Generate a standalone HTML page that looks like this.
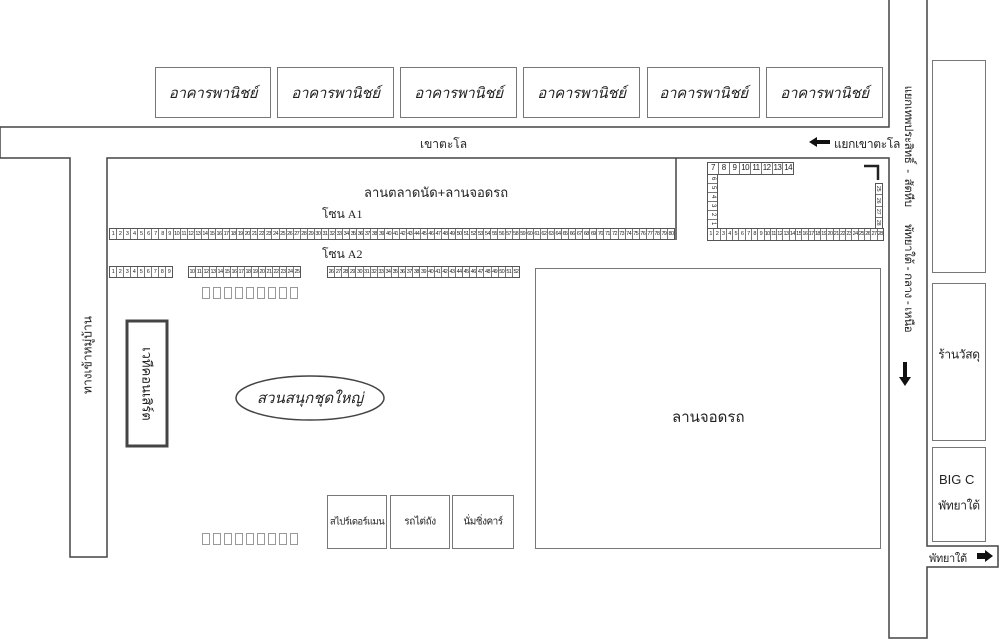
<!DOCTYPE html>
<html><head><meta charset="utf-8">
<style>
body{margin:0;width:1000px;height:641px;background:#fff;position:relative;overflow:hidden;font-family:"Liberation Sans","Noto Sans CJK SC",sans-serif;color:#222}
.a{position:absolute}
.row{position:absolute;display:flex;border:1px solid #555;box-sizing:border-box;background:#fff}
.row span{flex:1;border-right:1px solid #777;font-size:5.5px;letter-spacing:-0.6px;line-height:10px;text-align:center;overflow:hidden;white-space:nowrap}
.row span:last-child{border-right:none}
.col{position:absolute;display:flex;flex-direction:column;border:1px solid #555;box-sizing:border-box;background:#fff}
.col span{flex:1;border-bottom:1px solid #777;font-size:6px;text-align:center;overflow:hidden;writing-mode:vertical-rl;line-height:9px}
.col span:last-child{border-bottom:none}
.shop{position:absolute;top:67px;height:51px;border:1px solid #777;box-sizing:border-box;display:flex;align-items:center;justify-content:center;font-style:italic;font-size:15px;letter-spacing:-0.3px}
.sq{position:absolute;display:flex;gap:3px}
.sq i{display:block;width:8px;height:12px;border:1.5px solid #999;box-sizing:border-box}
.t{position:absolute;white-space:nowrap}
</style></head><body>
<svg class="a" style="left:0;top:0" width="1000" height="641">
<g fill="none" stroke="#444" stroke-width="1.5">
<polyline points="889,0 889,127 0,127 0,158 70,158 70,557 107,557 107,158 889,158 889,638 927,638 927,567 998,567 998,546 927,546 927,0"/>
<polyline points="676,158 676,240"/>
<rect x="127" y="321" width="40" height="125" stroke-width="3"/>
<ellipse cx="310" cy="398" rx="74" ry="22"/>
<polyline points="864,166 878,166 878,180" stroke-width="2.5" stroke="#222"/>
</g>
<g fill="none" stroke="#777" stroke-width="1">
<rect x="535.5" y="268.5" width="345" height="280"/>
<rect x="932.5" y="60.5" width="53" height="212"/>
<rect x="932.5" y="283.5" width="53" height="157"/>
<rect x="932.5" y="447.5" width="53" height="94"/>
<rect x="327.5" y="495.5" width="59" height="53"/>
<rect x="390.5" y="495.5" width="59" height="53"/>
<rect x="452.5" y="495.5" width="61" height="53"/>
</g>
<polygon points="809,142 817,137 817,140 830,140 830,144 817,144 817,147" fill="#111"/>
<polygon points="977,553 985,553 985,550 993,556 985,562 985,559 977,559" fill="#111"/>
<polygon points="903,362 907,362 907,377 911,377 905,386 899,377 903,377" fill="#111"/>
</svg>

<div class="shop" style="left:155px;width:116px">อาคารพานิชย์</div>
<div class="shop" style="left:277px;width:117px">อาคารพานิชย์</div>
<div class="shop" style="left:400px;width:117px">อาคารพานิชย์</div>
<div class="shop" style="left:523px;width:117px">อาคารพานิชย์</div>
<div class="shop" style="left:647px;width:113px">อาคารพานิชย์</div>
<div class="shop" style="left:766px;width:117px">อาคารพานิชย์</div>

<div class="t" style="left:420px;top:135px;font-size:12px">เขาตะโล</div>
<div class="t" style="left:834px;top:135px;font-size:12px;letter-spacing:-0.3px">แยกเขาตะโล</div>
<div class="t" style="left:364px;top:182px;font-size:13px">ลานตลาดนัด+ลานจอดรถ</div>
<div class="t" style="left:322px;top:205px;font-size:12px;font-family:'Liberation Serif','Noto Serif CJK SC',serif">โซน A1</div>
<div class="t" style="left:322px;top:245px;font-size:12px;font-family:'Liberation Serif','Noto Serif CJK SC',serif">โซน A2</div>

<div class="row" style="left:109px;top:228px;width:566px;height:12px"><span>1</span><span>2</span><span>3</span><span>4</span><span>5</span><span>6</span><span>7</span><span>8</span><span>9</span><span>10</span><span>11</span><span>12</span><span>13</span><span>14</span><span>15</span><span>16</span><span>17</span><span>18</span><span>19</span><span>20</span><span>21</span><span>22</span><span>23</span><span>24</span><span>25</span><span>26</span><span>27</span><span>28</span><span>29</span><span>30</span><span>31</span><span>32</span><span>33</span><span>34</span><span>35</span><span>36</span><span>37</span><span>38</span><span>39</span><span>40</span><span>41</span><span>42</span><span>43</span><span>44</span><span>45</span><span>46</span><span>47</span><span>48</span><span>49</span><span>50</span><span>51</span><span>52</span><span>53</span><span>54</span><span>55</span><span>56</span><span>57</span><span>58</span><span>59</span><span>60</span><span>61</span><span>62</span><span>63</span><span>64</span><span>65</span><span>66</span><span>67</span><span>68</span><span>69</span><span>70</span><span>71</span><span>72</span><span>73</span><span>74</span><span>75</span><span>76</span><span>77</span><span>78</span><span>79</span><span>80</span></div>

<div class="row" style="left:109px;top:266px;width:64px;height:12px"><span>1</span><span>2</span><span>3</span><span>4</span><span>5</span><span>6</span><span>7</span><span>8</span><span>9</span></div>
<div class="row" style="left:188px;top:266px;width:113px;height:12px"><span>10</span><span>11</span><span>12</span><span>13</span><span>14</span><span>15</span><span>16</span><span>17</span><span>18</span><span>19</span><span>20</span><span>21</span><span>22</span><span>23</span><span>24</span><span>25</span></div>
<div class="row" style="left:327px;top:266px;width:193px;height:12px"><span>26</span><span>27</span><span>28</span><span>29</span><span>30</span><span>31</span><span>32</span><span>33</span><span>34</span><span>35</span><span>36</span><span>37</span><span>38</span><span>39</span><span>40</span><span>41</span><span>42</span><span>43</span><span>44</span><span>45</span><span>46</span><span>47</span><span>48</span><span>49</span><span>50</span><span>51</span><span>52</span></div>

<div class="row" style="left:707px;top:162px;width:87px;height:13px"><span style="font-size:8px">7</span><span style="font-size:8px">8</span><span style="font-size:8px">9</span><span style="font-size:8px">10</span><span style="font-size:8px">11</span><span style="font-size:8px">12</span><span style="font-size:8px">13</span><span style="font-size:8px">14</span></div>
<div class="col" style="left:707px;top:174px;width:11px;height:55px"><span>6</span><span>5</span><span>4</span><span>3</span><span>2</span><span>1</span></div>
<div class="col" style="left:875px;top:183px;width:8px;height:46px"><span style="font-size:5px">25</span><span style="font-size:5px">26</span><span style="font-size:5px">27</span><span style="font-size:5px">28</span></div>
<div class="row" style="left:707px;top:228px;width:177px;height:13px"><span>1</span><span>2</span><span>3</span><span>4</span><span>5</span><span>6</span><span>7</span><span>8</span><span>9</span><span>10</span><span>11</span><span>12</span><span>13</span><span>14</span><span>15</span><span>16</span><span>17</span><span>18</span><span>19</span><span>20</span><span>21</span><span>22</span><span>23</span><span>24</span><span>25</span><span>26</span><span>27</span><span>28</span></div>

<div class="sq" style="left:202px;top:287px"><i></i><i></i><i></i><i></i><i></i><i></i><i></i><i></i><i></i></div>
<div class="sq" style="left:202px;top:533px"><i></i><i></i><i></i><i></i><i></i><i></i><i></i><i></i><i></i></div>

<div class="t" style="left:88px;top:355px;font-size:12px;transform:translate(-50%,-50%) rotate(-90deg)">ทางเข้าหมู่บ้าน</div>
<div class="t" style="left:147px;top:384px;font-size:13px;transform:translate(-50%,-50%) rotate(90deg)">เวทีคอนเสิร์ต</div>
<div class="t" style="left:310px;top:398px;font-size:15px;font-style:italic;transform:translate(-50%,-50%)">สวนสนุกชุดใหญ่</div>
<div class="t" style="left:672px;top:405px;font-size:15px">ลานจอดรถ</div>
<div class="t" style="left:357px;top:522px;font-size:9.5px;letter-spacing:-0.6px;transform:translate(-50%,-50%)">สไปร์เดอร์แมน</div>
<div class="t" style="left:420px;top:522px;font-size:10px;letter-spacing:-0.4px;transform:translate(-50%,-50%)">รถไต่ถัง</div>
<div class="t" style="left:483px;top:522px;font-size:10px;letter-spacing:-0.5px;transform:translate(-50%,-50%)">นั่มชิ่งคาร์</div>
<div class="t" style="left:908px;top:209px;font-size:11.5px;letter-spacing:-0.3px;transform:translate(-50%,-50%) rotate(90deg)">แยกเทพประสิทธิ์&nbsp; - &nbsp;สัตหีบ&nbsp;&nbsp;&nbsp;&nbsp;&nbsp;&nbsp;พัทยาใต้ - กลาง - เหนือ</div>
<div class="t" style="left:959px;top:355px;font-size:12px;letter-spacing:-0.3px;transform:translate(-50%,-50%)">ร้านวัสดุ</div>
<div class="t" style="left:939px;top:472px;font-size:13px">BIG C</div>
<div class="t" style="left:959px;top:506px;font-size:12px;letter-spacing:-0.3px;transform:translate(-50%,-50%)">พัทยาใต้</div>
<div class="t" style="left:929px;top:549px;font-size:11px;letter-spacing:-0.3px">พัทยาใต้</div>
</body></html>
